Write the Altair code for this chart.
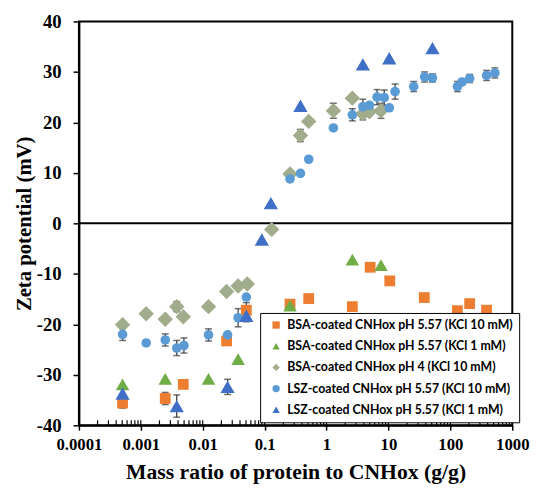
import altair as alt
import pandas as pd

series_names = [
    "BSA-coated CNHox pH 5.57 (KCl 10 mM)",
    "BSA-coated CNHox pH 5.57 (KCl 1 mM)",
    "BSA-coated CNHox pH 4 (KCl 10 mM)",
    "LSZ-coated CNHox pH 5.57 (KCl 10 mM)",
    "LSZ-coated CNHox pH 5.57 (KCl 1 mM)",
]
series_colors = ["#ED7D31", "#70AD47", "#A0AC8C", "#5B9BD5", "#3F6FC6"]
series_shapes = ["square", "triangle-up", "diamond", "circle", "triangle-up"]
series_sizes = [120, 190, 245, 95, 210]

bsa10_x = [0.000507, 0.00248, 0.00485, 0.0243, 0.0506, 0.257, 0.515, 2.61, 5.06, 10.5, 37.9, 130, 205, 385]
bsa10_y = [-35.6, -34.7, -31.9, -23.3, -17.2, -16.0, -14.9, -16.5, -8.7, -11.4, -14.7, -17.3, -15.9, -17.2]
bsa10_e = [1.0, 1.2, 0, 0, 1.5, 0, 0, 0, 0, 0, 0, 0, 0, 0]

bsa1_x = [0.000507, 0.00248, 0.0124, 0.0373, 0.257, 2.61, 7.57]
bsa1_y = [-31.9, -30.8, -30.8, -26.9, -16.3, -7.2, -8.3]
bsa1_e = [0, 0, 0, 0, 0.8, 0, 0]

bsa4_x = [0.000507, 0.00122, 0.00248, 0.0038, 0.00485, 0.0124, 0.0243, 0.0373, 0.0524, 0.13,
          0.257, 0.379, 0.515, 1.29, 2.61, 3.86, 4.93, 7.57]
bsa4_y = [-20.1, -17.9, -19.0, -16.5, -18.5, -16.5, -13.5, -12.4, -12.0, -1.2,
          9.8, 17.4, 20.2, 22.3, 24.8, 21.7, 22.1, 22.3]
bsa4_e = [0, 0, 0, 1.0, 0, 0, 0, 0, 0, 0, 0, 1.2, 0, 1.5, 0, 1.2, 0, 1.5]

lsz10_x = [0.000507, 0.00122, 0.00248, 0.0038, 0.00497, 0.0124, 0.0252, 0.0373, 0.0506, 0.257,
           0.379, 0.515, 1.29, 2.61, 3.86, 4.93, 6.54, 8.55, 10.3, 12.8,
           25.6, 38.4, 51.4, 130, 154, 205, 385, 523]
lsz10_y = [-22.0, -23.7, -23.1, -24.7, -24.2, -22.1, -22.1, -18.7, -14.6, 8.8,
           9.9, 12.7, 18.9, 21.5, 23.1, 23.4, 25.0, 24.9, 22.9, 26.1,
           27.1, 29.0, 28.8, 27.1, 28.0, 28.7, 29.3, 29.8]
lsz10_e = [1.2, 0, 1.2, 1.5, 1.5, 1.2, 0, 1.8, 0, 0,
           0, 0, 0, 1.2, 1.5, 0, 1.5, 1.5, 0, 1.5,
           1.0, 1.0, 0.8, 1.0, 0, 0.8, 1.0, 1.0]

lsz1_x = [0.000507, 0.0038, 0.0252, 0.0506, 0.09, 0.126, 0.379, 3.86, 10.3, 51.4]
lsz1_y = [-33.7, -36.2, -32.4, -18.3, -3.2, 4.0, 23.3, 31.5, 32.7, 34.7]
lsz1_e = [0, 2.2, 1.5, 1.2, 0, 0, 0, 0, 0, 0]

x_ticks = [0.0001, 0.001, 0.01, 0.1, 1, 10, 100, 1000]
x_minor = [m * d for d in [0.0001, 0.001, 0.01, 0.1, 1, 10, 100] for m in range(2, 10)]
y_ticks = [-40, -30, -20, -10, 0, 10, 20, 30, 40]

rows = []
for i, (name, xs, ys, es) in enumerate(zip(series_names,
                            [bsa10_x, bsa1_x, bsa4_x, lsz10_x, lsz1_x],
                            [bsa10_y, bsa1_y, bsa4_y, lsz10_y, lsz1_y],
                            [bsa10_e, bsa1_e, bsa4_e, lsz10_e, lsz1_e])):
    for xv, yv, ev in zip(xs, ys, es):
        rows.append({"series": name, "x": xv, "y": yv, "err": ev,
                     "lo": yv - ev, "hi": yv + ev, "order": i, "sz": series_sizes[i]})
df = pd.DataFrame(rows)
df_err = df[df["err"] > 0]

W, H = 440, 410
serif = "Liberation Serif"
xscale = alt.Scale(type="log", domain=[0.0001, 1000], nice=False)
yscale = alt.Scale(domain=[-40, 40], nice=False, zero=False)

xaxis = alt.Axis(values=x_ticks, format="~g", grid=False, labelFont=serif, labelFontSize=17,
                 labelFontWeight="bold", labelColor="black", tickColor="black", tickSize=5,
                 tickWidth=1.5, domainColor="black", domainWidth=2, labelPadding=7,
                 labelFlush=False, title="Mass ratio of protein to CNHox (g/g)",
                 titleFont=serif, titleFontSize=22, titleFontWeight="bold", titleColor="black",
                 titlePadding=9)
yaxis = alt.Axis(values=y_ticks, labelExpr="datum.value + ''", grid=False, labelFont=serif,
                 labelFontSize=19, labelFontWeight="bold", labelColor="black", tickColor="black",
                 tickSize=6, tickWidth=1.5, domainColor="black", domainWidth=2, labelPadding=12,
                 title="Zeta potential (mV)", titleFont=serif, titleFontSize=21,
                 titleFontWeight="bold", titleColor="black", titlePadding=2)

X = lambda f: alt.X(f"{f}:Q", scale=xscale, axis=xaxis)
Y = lambda f: alt.Y(f"{f}:Q", scale=yscale, axis=yaxis)

base_err = alt.Chart(df_err)
stems = base_err.mark_rule(color="#333333", strokeWidth=1.2).encode(x=X("x"), y=Y("lo"), y2="hi:Q")
caps_lo = base_err.mark_tick(color="#333333", orient="horizontal", size=7, thickness=1.5).encode(x=X("x"), y=Y("lo"))
caps_hi = base_err.mark_tick(color="#333333", orient="horizontal", size=7, thickness=1.5).encode(x=X("x"), y=Y("hi"))

points = alt.Chart(df).mark_point(filled=True, opacity=1, strokeWidth=0).encode(
    x=X("x"),
    y=Y("y"),
    color=alt.Color("series:N", scale=alt.Scale(domain=series_names, range=series_colors),
                    legend=alt.Legend(title=None, orient="none", legendX=184, legendY=296,
                                      labelFont="Lato", labelFontSize=12.5, labelFontWeight="bold",
                                      labelColor="black", symbolSize=55, symbolStrokeWidth=0,
                                      strokeColor="black", fillColor="white", padding=6,
                                      rowPadding=8.5, labelOffset=5, symbolOffset=4,
                                      labelLimit=400)),
    shape=alt.Shape("series:N", scale=alt.Scale(domain=series_names, range=series_shapes)),
    size=alt.Size("sz:Q", scale=None),
    order=alt.Order("order:Q"),
)

zero = alt.Chart(pd.DataFrame({"z": [0]})).mark_rule(color="black", strokeWidth=2).encode(y=Y("z"))

minor = alt.Chart(pd.DataFrame({"t": x_minor + x_ticks})).mark_rule(color="black", strokeWidth=1.2).encode(
    x=X("t"), y=alt.value(H), y2=alt.value(H - 5))

chart = alt.layer(stems, caps_lo, caps_hi, zero, minor, points).properties(
    width=W, height=H,
    padding={"left": 72, "top": 10, "right": 18, "bottom": 56},
    autosize=alt.AutoSizeParams(type="none"),
    background="white",
).configure_view(stroke="black", strokeWidth=2)

chart.save("out.html", embed_options={"renderer": "svg", "actions": False})
